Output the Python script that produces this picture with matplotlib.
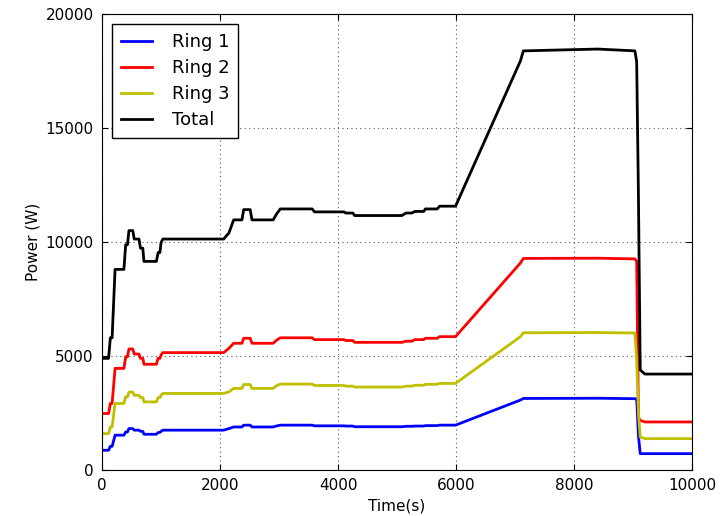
import matplotlib
matplotlib.use('Agg')
import matplotlib.pyplot as plt

# time stamps (s) and power (W) for each ring and the total
time = [0, 110, 140, 170, 220, 370, 400, 430, 455, 520, 545, 625, 650, 690, 710, 920,
        950, 980, 1000, 1030, 2060, 2150, 2230, 2370, 2400, 2510, 2540, 2900, 2950,
        3020, 3560, 3600, 4100, 4130, 4250, 4280, 5080, 5150, 5250, 5300, 5450, 5480,
        5680, 5720, 5990, 7090, 7140, 8400, 9030, 9060, 9090, 9120, 9200, 10000]
ring1 = [870, 870, 1040, 1040, 1530, 1530, 1670, 1670, 1820, 1820, 1750, 1750, 1700, 1700,
         1570, 1570, 1650, 1650, 1700, 1750, 1750, 1820, 1890, 1890, 1970, 1970, 1890, 1890,
         1930, 1970, 1970, 1940, 1940, 1930, 1930, 1900, 1900, 1920, 1920, 1930, 1930, 1950,
         1950, 1970, 1970, 3070, 3140, 3150, 3130, 3120, 1500, 720, 720, 720]
ring2 = [2480, 2480, 2920, 2920, 4460, 4460, 4970, 4970, 5310, 5310, 5090, 5090, 4900, 4900,
         4640, 4640, 4900, 4900, 5050, 5150, 5150, 5340, 5560, 5560, 5780, 5780, 5560, 5560,
         5680, 5800, 5800, 5720, 5720, 5680, 5680, 5600, 5600, 5650, 5650, 5720, 5720, 5780,
         5780, 5850, 5850, 9080, 9280, 9290, 9260, 9150, 2300, 2180, 2110, 2110]
ring3 = [1600, 1600, 1890, 1890, 2920, 2920, 3210, 3210, 3420, 3420, 3280, 3280, 3180, 3180,
         2990, 2990, 3180, 3180, 3280, 3360, 3360, 3430, 3580, 3580, 3750, 3750, 3580, 3580,
         3690, 3770, 3770, 3710, 3710, 3680, 3680, 3640, 3640, 3680, 3680, 3720, 3720, 3760,
         3760, 3800, 3800, 5850, 6020, 6030, 6010, 4800, 2500, 1450, 1380, 1380]
total = [4900, 4900, 5800, 5800, 8800, 8800, 9880, 9880, 10500, 10500, 10130, 10130, 9730, 9730,
         9150, 9150, 9540, 9540, 9980, 10130, 10130, 10400, 10970, 10970, 11420, 11420, 10970, 10970,
         11200, 11450, 11450, 11320, 11320, 11270, 11270, 11160, 11160, 11270, 11270, 11340, 11340, 11450,
         11450, 11570, 11570, 17940, 18380, 18460, 18380, 17900, 12000, 4390, 4210, 4210]

plt.rcParams['font.family'] = 'DejaVu Sans'
fig = plt.figure(figsize=(7.24, 5.16), dpi=100)
ax = fig.add_axes([0.141, 0.089, 0.815, 0.884])

ax.plot(time, ring1, color='b', lw=2, label='Ring 1')
ax.plot(time, ring2, color='r', lw=2, label='Ring 2')
ax.plot(time, ring3, color='y', lw=2, label='Ring 3')
ax.plot(time, total, color='k', lw=2, label='Total')

ax.set_xlim(0, 10000)
ax.set_ylim(0, 20000)
ax.set_xticks(range(0, 10001, 2000))
ax.set_yticks(range(0, 20001, 5000))
ax.grid(True, color='#555555', linestyle=(0, (1, 3)), linewidth=0.8)
ax.tick_params(direction='in', top=True, right=True, labelsize=11, length=4, pad=6)
ax.set_xlabel('Time(s)', fontsize=11)
ax.set_ylabel('Power (W)', fontsize=11)

leg = ax.legend(loc='upper left', fontsize=13, fancybox=False, framealpha=1,
                edgecolor='k', handlelength=1.7, handletextpad=1.1,
                borderpad=0.5, labelspacing=0.45, borderaxespad=0.55)
leg.get_frame().set_linewidth(1)

fig.savefig('out.png', dpi=100)
